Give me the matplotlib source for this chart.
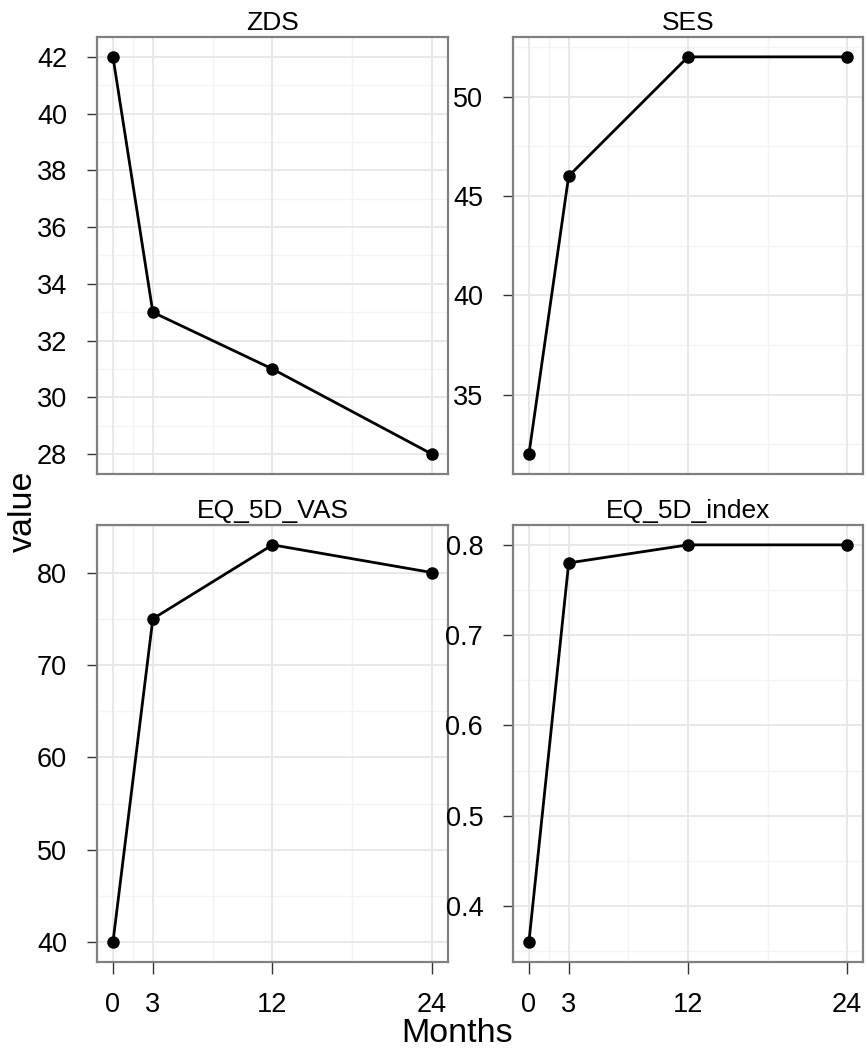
import numpy as np
import matplotlib
matplotlib.use("Agg")
import matplotlib.pyplot as plt

plt.rcParams["font.family"] = ["Liberation Sans", "DejaVu Sans"]

months = [0, 3, 12, 24]
zds = [42, 33, 31, 28]
ses = [32, 46, 52, 52]
eq_vas = [40, 75, 83, 80]
eq_index = [0.36, 0.78, 0.80, 0.80]

panels = [
    ("ZDS", zds, [28, 30, 32, 34, 36, 38, 40, 42], None),
    ("SES", ses, [35, 40, 45, 50], None),
    ("EQ_5D_VAS", eq_vas, [40, 50, 60, 70, 80], None),
    ("EQ_5D_index", eq_index, [0.4, 0.5, 0.6, 0.7, 0.8], "{:.1f}"),
]

x_ticks = [0, 3, 12, 24]

W, H = 867, 1052
fig = plt.figure(figsize=(W / 100, H / 100), dpi=100)

# panel boxes in pixels: (left, top, right, bottom)
boxes = [
    (97, 37, 448, 474),
    (513, 37, 863, 474),
    (97, 525, 448, 962),
    (513, 525, 863, 962),
]


def minor_breaks(major, lo, hi):
    b = list(major)
    if lo < b[0]:
        b = [b[0] - (b[1] - b[0])] + b
    if hi > b[-1]:
        b = b + [b[-1] + (b[-1] - b[-2])]
    mids = [(a + c) / 2 for a, c in zip(b[:-1], b[1:])]
    return [m for m in mids if lo <= m <= hi]


for i, (name, vals, yt, fmt) in enumerate(panels):
    l, t, r, b = boxes[i]
    ax = fig.add_axes([l / W, 1 - b / H, (r - l) / W, (b - t) / H])

    xlo, xhi = min(months), max(months)
    xpad = (xhi - xlo) * 0.05
    ylo, yhi = min(vals), max(vals)
    ypad = (yhi - ylo) * 0.05
    ax.set_xlim(xlo - xpad, xhi + xpad)
    ax.set_ylim(ylo - ypad, yhi + ypad)

    for xm in minor_breaks(x_ticks, xlo - xpad, xhi + xpad):
        ax.axvline(xm, color="#f4f4f4", lw=1.0, zorder=0)
    for ym in minor_breaks(yt, ylo - ypad, yhi + ypad):
        ax.axhline(ym, color="#f4f4f4", lw=1.0, zorder=0)
    for xm in x_ticks:
        ax.axvline(xm, color="#e8e8e8", lw=1.4, zorder=0)
    for ym in yt:
        ax.axhline(ym, color="#e8e8e8", lw=1.4, zorder=0)

    ax.plot(months, vals, color="black", lw=2.0, marker="o",
            markersize=8, zorder=3)

    ax.set_yticks(yt)
    if fmt:
        ax.set_yticklabels([fmt.format(v) for v in yt])
    else:
        ax.set_yticklabels([str(v) for v in yt])
    ax.set_xticks(x_ticks)
    if i >= 2:
        ax.set_xticklabels([str(v) for v in x_ticks])
        ax.tick_params(axis="x", length=8.5, width=1.0, color="#333333",
                       pad=13, labelsize=19.5)
    else:
        ax.tick_params(axis="x", length=0, labelbottom=False)
    ax.tick_params(axis="y", length=7.5, width=1.0, color="#333333",
                   pad=14, labelsize=19.5)

    for s in ax.spines.values():
        s.set_color("#808080")
        s.set_linewidth(1.6)

    ax.set_title(name, fontsize=19, pad=5)

fig.text(457 / W, 1 - 1033 / H, "Months", fontsize=24.5,
         ha="center", va="center")
fig.text(23 / W, 1 - 511 / H, "value", fontsize=24.5, rotation=90,
         ha="center", va="center")

fig.savefig("out.png", dpi=100)
